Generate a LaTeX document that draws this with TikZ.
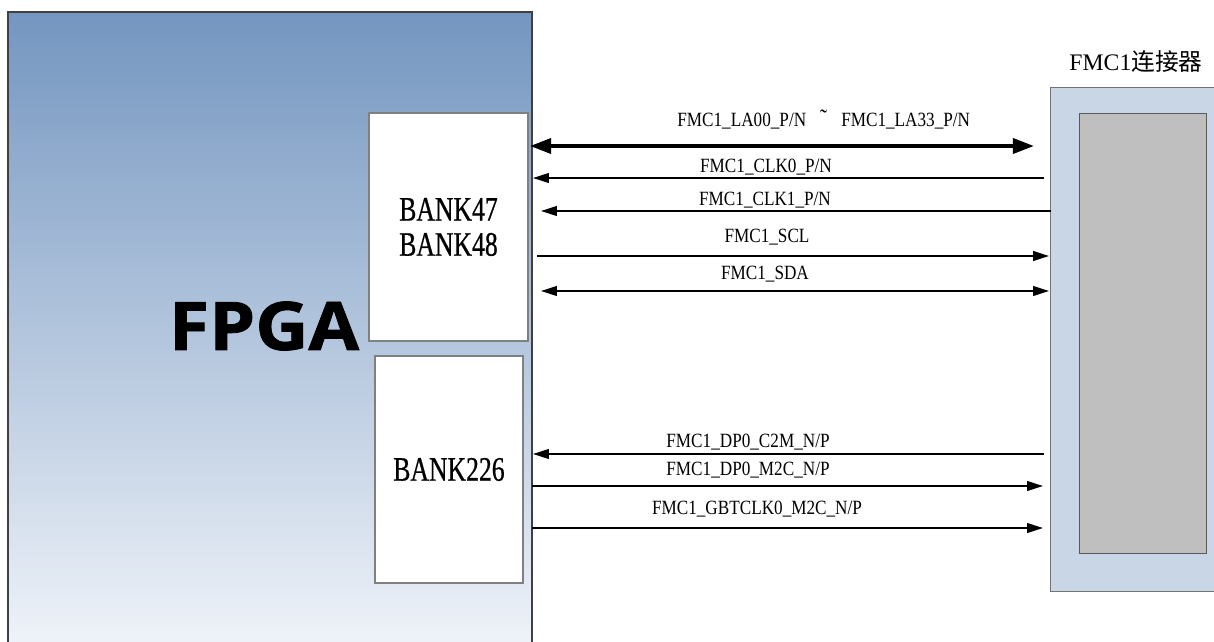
\documentclass[tikz,border=0pt]{standalone}
\usepackage{fontspec}
\setmainfont{Liberation Serif}
\newfontfamily\cjkfont{Noto Sans CJK SC}
\newfontfamily\bankfont[FakeStretch=0.75,FakeBold=0.6]{Liberation Serif}
\newfontfamily\lblfont[FakeStretch=0.85]{Liberation Serif}
\newfontfamily\fpgafont[FakeStretch=1.1,FakeBold=1.2]{Open Sans Bold}
\usetikzlibrary{arrows.meta}

\definecolor{fpgatop}{RGB}{116,150,192}
\definecolor{fpgabot}{RGB}{242,245,250}
\definecolor{connblue}{RGB}{200,214,230}
\definecolor{conngray}{RGB}{191,191,191}

\tikzset{
  bank/.style={draw=black!50,fill=white,line width=0.6pt,align=center,
    font=\bankfont\fontsize{19.5}{20}\selectfont},
  sig/.style={line width=1pt,-{Triangle[length=9pt,width=5.5pt]}},
  sigboth/.style={line width=1pt,{Triangle[length=9pt,width=5.5pt]}-{Triangle[length=9pt,width=5.5pt]}},
  bus/.style={line width=2.2pt,{Triangle[length=12pt,width=8.5pt]}-{Triangle[length=12pt,width=8.5pt]}},
  lbl/.style={inner sep=0pt,font=\lblfont\fontsize{11.5}{13}\selectfont}
}

\begin{document}
\begin{tikzpicture}[x=0.02cm,y=-0.02cm]
   \useasboundingbox (0,0) rectangle (1214,642);

   % FPGA block
   \shade[top color=fpgatop,bottom color=fpgabot] (8,12) rectangle (532,660);
   \draw[black!75,line width=0.8pt] (8,660) -- (8,12) -- (532,12) -- (532,660);
   \node (fpga) at (264,326) {\fpgafont\fontsize{38}{38}\selectfont FPGA};

   \node[bank,minimum width=3.18cm,minimum height=4.56cm] (bankA) at (448.5,227) {BANK47\\BANK48};
   \node[bank,minimum width=2.96cm,minimum height=4.54cm] (bankB) at (449,469.5) {BANK226};

   % FMC1 connector
   \node[draw=black!55,fill=connblue,line width=0.6pt,anchor=north west,
     minimum width=3.5cm,minimum height=10.08cm] (conn) at (1050,87) {};
   \node[draw=black!65,fill=conngray,line width=0.6pt,anchor=north west,
     minimum width=2.54cm,minimum height=8.8cm] (connin) at (1079,113) {};
   \node (conntitle) at (1136,62) {\fontsize{13.5}{15}\selectfont FMC1{\cjkfont 连接器}};

   % end points
   \coordinate (laL) at (530,146);  \coordinate (laR) at (1034,146);
   \coordinate (ckaL) at (533,178); \coordinate (ckaR) at (1044,178);
   \coordinate (ckbL) at (541,211); \coordinate (ckbR) at (1051,211);
   \coordinate (sclL) at (537,256); \coordinate (sclR) at (1049,256);
   \coordinate (sdaL) at (541,291); \coordinate (sdaR) at (1049,291);
   \coordinate (c2mL) at (533,454); \coordinate (c2mR) at (1044,454);
   \coordinate (m2cL) at (532,486); \coordinate (m2cR) at (1043,486);
   \coordinate (gbtL) at (532,528); \coordinate (gbtR) at (1043,528);

   \draw[bus] (laL) -- (laR);
   \draw[sig] (ckaR) -- (ckaL);
   \draw[sig] (ckbR) -- (ckbL);
   \draw[sig] (sclL) -- (sclR);
   \draw[sigboth] (sdaL) -- (sdaR);
   \draw[sig] (c2mR) -- (c2mL);
   \draw[sig] (m2cL) -- (m2cR);
   \draw[sig] (gbtL) -- (gbtR);

   % signal names
   \node[lbl,anchor=west] (lalbl) at (677,120) {FMC1\_LA00\_P/N\hspace{8pt}{\fontsize{14}{14}\selectfont˜}\hspace{8pt}FMC1\_LA33\_P/N};
   \node[lbl] (ckalbl) at (766,167) {FMC1\_CLK0\_P/N};
   \node[lbl] (ckblbl) at (765,200) {FMC1\_CLK1\_P/N};
   \node[lbl] (scllbl) at (767,237) {FMC1\_SCL};
   \node[lbl] (sdalbl) at (765,274) {FMC1\_SDA};
   \node[lbl] (c2mlbl) at (748,442) {FMC1\_DP0\_C2M\_N/P};
   \node[lbl] (m2clbl) at (748,470) {FMC1\_DP0\_M2C\_N/P};
   \node[lbl] (gbtlbl) at (757,509) {FMC1\_GBTCLK0\_M2C\_N/P};
\end{tikzpicture}
\end{document}
